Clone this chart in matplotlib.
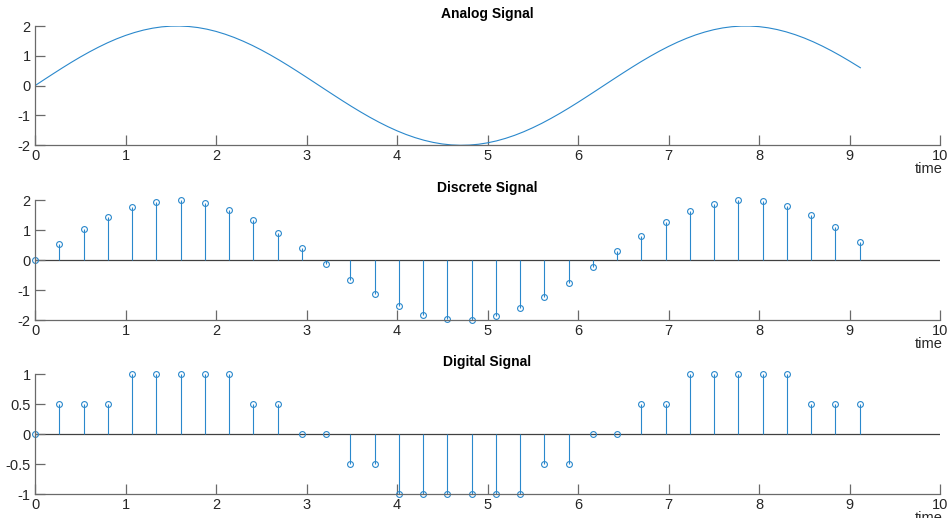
import matplotlib
matplotlib.use("Agg")
import matplotlib.pyplot as plt

# 아날로그 신호 (연속 곡선)
analog_t = [0.0, 0.1, 0.2, 0.3, 0.4, 0.5, 0.6, 0.7, 0.8, 0.9, 1.0, 1.1, 1.2, 1.3, 1.4,
            1.5, 1.6, 1.7, 1.8, 1.9, 2.0, 2.1, 2.2, 2.3, 2.4, 2.5, 2.6, 2.7, 2.8, 2.9,
            3.0, 3.1, 3.2, 3.3, 3.4, 3.5, 3.6, 3.7, 3.8, 3.9, 4.0, 4.1, 4.2, 4.3, 4.4,
            4.5, 4.6, 4.7, 4.8, 4.9, 5.0, 5.1, 5.2, 5.3, 5.4, 5.5, 5.6, 5.7, 5.8, 5.9,
            6.0, 6.1, 6.2, 6.3, 6.4, 6.5, 6.6, 6.7, 6.8, 6.9, 7.0, 7.1, 7.2, 7.3, 7.4,
            7.5, 7.6, 7.7, 7.8, 7.9, 8.0, 8.1, 8.2, 8.3, 8.4, 8.5, 8.6, 8.7, 8.8, 8.9,
            9.0, 9.1, 9.12]
analog_v = [0.0, 0.200, 0.397, 0.591, 0.779, 0.959, 1.129, 1.288, 1.435, 1.567, 1.683,
            1.782, 1.864, 1.927, 1.971, 1.995, 1.999, 1.983, 1.948, 1.893, 1.819, 1.726,
            1.617, 1.491, 1.351, 1.197, 1.031, 0.855, 0.670, 0.478, 0.282, 0.083, -0.117,
            -0.315, -0.511, -0.702, -0.885, -1.060, -1.224, -1.376, -1.514, -1.637,
            -1.743, -1.832, -1.903, -1.955, -1.987, -2.000, -1.992, -1.965, -1.918,
            -1.852, -1.767, -1.665, -1.546, -1.411, -1.263, -1.101, -0.929, -0.748,
            -0.559, -0.364, -0.166, 0.034, 0.233, 0.430, 0.623, 0.810, 0.988, 1.157,
            1.314, 1.458, 1.587, 1.701, 1.797, 1.876, 1.936, 1.976, 1.997, 1.998, 1.979,
            1.940, 1.881, 1.804, 1.709, 1.597, 1.469, 1.326, 1.170, 1.002, 0.824, 0.638,
            0.600]

# 샘플 시점
sample_t = [0.0, 0.268, 0.536, 0.804, 1.072, 1.34, 1.608, 1.876, 2.144, 2.412, 2.68,
            2.948, 3.216, 3.484, 3.752, 4.02, 4.288, 4.556, 4.824, 5.092, 5.36, 5.628,
            5.896, 6.164, 6.432, 6.7, 6.968, 7.236, 7.504, 7.772, 8.04, 8.308, 8.576,
            8.844, 9.112]
discrete_v = [0.0, 0.530, 1.022, 1.440, 1.756, 1.947, 1.999, 1.907, 1.681, 1.333, 0.891,
              0.384, -0.149, -0.671, -1.146, -1.540, -1.819, -1.976, -1.988, -1.857,
              -1.595, -1.218, -0.755, -0.238, 0.297, 0.810, 1.265, 1.630, 1.879, 1.993,
              1.965, 1.798, 1.500, 1.098, 0.615]
digital_v = [0, 0.5, 0.5, 0.5, 1, 1, 1, 1, 1, 0.5, 0.5, 0, 0, -0.5, -0.5, -1, -1, -1,
             -1, -1, -1, -0.5, -0.5, 0, 0, 0.5, 0.5, 1, 1, 1, 1, 1, 0.5, 0.5, 0.5]

titles = ["Analog Signal", "Discrete Signal", "Digital Signal"]
y_ticks = [[-2, -1, 0, 1, 2], [-2, -1, 0, 1, 2], [-1, -0.5, 0, 0.5, 1]]
y_tick_labels = [["-2", "-1", "0", "1", "2"], ["-2", "-1", "0", "1", "2"],
                 ["-1", "-0.5", "0", "0.5", "1"]]
x_ticks = list(range(0, 11))

line_color = "#2a88cc"
axis_color = "#6a6a6a"

plt.rcParams['font.family'] = ['Liberation Sans', 'DejaVu Sans']

W, H = 948, 518
fig = plt.figure(figsize=(W / 100, H / 100), dpi=100)

# 패널 위치 (픽셀: 위, 아래)
panels = [(26, 145.3), (200, 320), (374.3, 494)]
left_px, right_px = 35, 940

axes = []
for top, bottom in panels:
    ax = fig.add_axes([left_px / W, 1 - bottom / H, (right_px - left_px) / W, (bottom - top) / H])
    axes.append(ax)

axes[0].plot(analog_t, analog_v, color=line_color, lw=0.8)

for ax, vals in [(axes[1], discrete_v), (axes[2], digital_v)]:
    ml, sl, bl = ax.stem(sample_t, vals, basefmt=" ")
    plt.setp(sl, color=line_color, lw=0.8)
    plt.setp(ml, color=line_color, marker='o', markersize=4.2,
             markerfacecolor='none', markeredgewidth=0.8, clip_on=False)
    ax.axhline(0, color="#404040", lw=0.9, zorder=1)

for i, ax in enumerate(axes):
    ax.set_xlim(0, 10)
    ax.set_ylim(y_ticks[i][0], y_ticks[i][-1])
    ax.set_xticks(x_ticks)
    ax.set_yticks(y_ticks[i])
    ax.set_yticklabels(y_tick_labels[i])
    ax.spines['top'].set_visible(False)
    ax.spines['right'].set_visible(False)
    for s in ['left', 'bottom']:
        ax.spines[s].set_color(axis_color)
        ax.spines[s].set_linewidth(0.9)
    ax.tick_params(direction='in', length=7, width=0.9, color=axis_color,
                   labelsize=10.5, labelcolor="#262626", pad=3)
    ax.set_title(titles[i], fontsize=10, fontweight='bold', pad=6)
    ax.set_xlabel("time", fontsize=10.5, color="#262626")
    ax.xaxis.set_label_coords(0.988, -17 / (panels[i][1] - panels[i][0]))

fig.savefig("out.png", dpi=100, facecolor="white")
